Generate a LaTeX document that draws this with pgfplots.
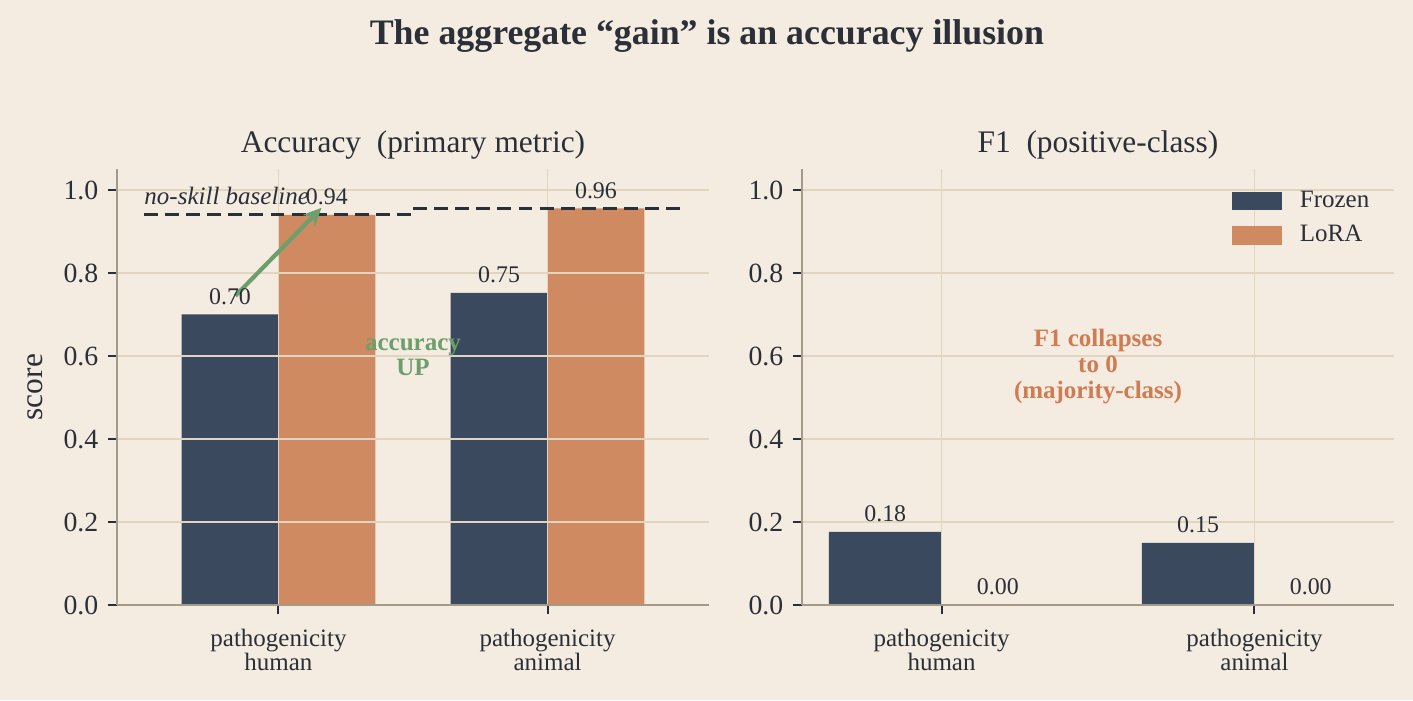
\documentclass[border=0pt]{standalone}
\usepackage{pgfplots}
\pgfplotsset{compat=1.18}
\usepackage{fontspec}
\setmainfont{Liberation Serif}
\usetikzlibrary{arrows.meta}

\definecolor{bgc}{HTML}{F4ECE1}
\definecolor{frozen}{HTML}{3A495D}
\definecolor{lora}{HTML}{CF8A62}
\definecolor{gridc}{HTML}{E2D5BF}
\definecolor{spine}{HTML}{A39A88}
\definecolor{txt}{HTML}{2B2F38}
\definecolor{upgreen}{HTML}{6C9F6C}
\definecolor{warnorange}{HTML}{D07B52}
\pagecolor{bgc}

\pgfplotsset{
  /pgf/number format/assume math mode=true,
  panel/.style={
    scale only axis,
    width=213.12pt, height=156.87pt,
    anchor=south west,
    set layers,
    ymin=0, ymax=1.05,
    ytick={0,0.2,0.4,0.6,0.8,1.0},
    xtick={0,1},
    xticklabels={pathogenicity\\human, pathogenicity\\animal},
    axis x line*=bottom, axis y line*=left,
    axis line style={color=spine, line width=0.75pt},
    tick align=outside,
    major tick length=3.2pt,
    tick style={color=txt, line width=0.7pt},
    grid=major,
    major grid style={color=gridc, line width=0.55pt},
    yticklabel style={font=\fontsize{10}{11}\selectfont, text=txt,
      /pgf/number format/.cd, fixed, fixed zerofill, precision=1},
    xticklabel style={font=\fontsize{9}{8.8}\selectfont, text=txt, align=center,
      yshift=-1.8pt},
    title style={font=\fontsize{11.3}{13}\selectfont, text=txt,
      at={(0.5,1)}, anchor=base, yshift=0pt},
    nodes near coords,
    every node near coord/.append style={font=\fontsize{8.6}{10}\selectfont, text=txt},
    nodes near coords style={/pgf/number format/.cd, fixed, fixed zerofill, precision=2},
  },
  % bars are drawn at their own (already offset) x positions, under the grid
  frozenbar/.style={ybar, bar width=0.36, bar shift=0, fill=frozen, draw=none,
    on layer=axis background,
    legend image code/.code={\fill[frozen] (0pt,-3.25pt) rectangle (18pt,3.25pt);}},
  lorabar/.style={ybar, bar width=0.36, bar shift=0, fill=lora, draw=none,
    on layer=axis background,
    legend image code/.code={\fill[lora] (0pt,-3.25pt) rectangle (18pt,3.25pt);}},
  baseline/.style={txt, line width=1.1pt, dash pattern=on 5pt off 2.6pt,
    nodes near coords=},
}

\begin{document}
\begin{tikzpicture}
\path (0,0) rectangle (508.68pt,252pt);

\node[anchor=base, font=\fontsize{12.9}{15}\selectfont\bfseries, text=txt]
  at (254.5pt,235.8pt) {The aggregate “gain” is an accuracy illusion};

% Accuracy panel
\begin{axis}[panel, at={(42.12pt,34.2pt)},
  xmin=-0.6, xmax=1.6,
  title={Accuracy\ \ (primary metric)},
  ylabel={score},
  ylabel style={font=\fontsize{11.3}{13}\selectfont, text=txt,
    at={(axis description cs:-0.1385,0.5)}, anchor=center},
]
\addplot[frozenbar] coordinates {(-0.18,0.700) (0.82,0.752)};
\addplot[lorabar] coordinates {(0.18,0.940) (1.18,0.956)};
% no-skill (majority-class) baselines
\addplot[baseline] coordinates {(-0.5,0.940) (0.5,0.940)};
\addplot[baseline] coordinates {(0.5,0.956) (1.5,0.956)};
\node[anchor=base west, inner sep=0pt, font=\fontsize{9}{10}\selectfont\itshape, text=txt]
  at (axis cs:-0.5,0.965) {no-skill baseline};
\draw[upgreen, line width=1.5pt, -{Stealth[length=6.5pt,width=6pt]}]
  (axis cs:-0.16,0.745) -- (axis cs:0.16,0.957);
\node[align=center, font=\fontsize{9}{8.8}\selectfont\bfseries, text=upgreen]
  at (axis cs:0.5,0.597) {accuracy\\UP};
\end{axis}

% F1 panel
\begin{axis}[panel, at={(288.72pt,34.2pt)},
  xmin=-0.446, xmax=1.446,
  title={F1\ \ (positive-class)},
  legend style={draw=none, fill=none, at={(0.726,0.964)}, anchor=north west,
    inner sep=0pt, row sep=0.9pt, font=\fontsize{9}{10}\selectfont, text=txt,
    legend cell align=left,
    /tikz/every odd column/.append style={column sep=4.3pt}},
]
\addplot[frozenbar] coordinates {(-0.18,0.176) (0.82,0.150)};
\addlegendentry{Frozen}
\addplot[lorabar] coordinates {(0.18,0.0) (1.18,0.0)};
\addlegendentry{LoRA}
\node[align=center, font=\fontsize{9}{9.4}\selectfont\bfseries, text=warnorange]
  at (axis cs:0.5,0.575) {F1 collapses\\to 0\\(majority-class)};
\end{axis}
\end{tikzpicture}
\end{document}
